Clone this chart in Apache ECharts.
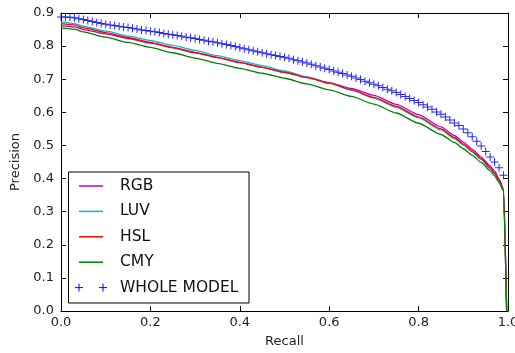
<!DOCTYPE html>
<html>
<head>
<meta charset="utf-8">
<script src="https://cdn.jsdelivr.net/npm/echarts@6/dist/echarts.min.js"></script>
<style>
  html, body { margin: 0; padding: 0; background: #fff; }
  #chart { width: 515px; height: 353px; }
</style>
</head>
<body>
<div id="chart"></div>
<script>
// Precision-recall curves for four colour-space models and the combined model.
const seriesNames = ['RGB', 'LUV', 'HSL', 'CMY', 'WHOLE MODEL'];
const seriesColors = ['#bf00bf', '#00bfbf', '#ff0000', '#008000', '#0000ff'];

// Recall positions shared by the four single-space curves
const recallLine = [0, 0.03, 0.05, 0.1, 0.15, 0.2, 0.25, 0.3, 0.35, 0.4, 0.45, 0.5, 0.55, 0.6,
  0.65, 0.7, 0.75, 0.8, 0.85, 0.88, 0.9, 0.92, 0.94, 0.96, 0.97, 0.98, 0.99, 0.997];

const precisionRGB = [0.862, 0.858, 0.850, 0.837, 0.823, 0.809, 0.795, 0.780, 0.765, 0.750, 0.736,
  0.721, 0.706, 0.690, 0.672, 0.651, 0.624, 0.593, 0.556, 0.530, 0.510, 0.488, 0.465, 0.438,
  0.422, 0.400, 0.368, 0.0];
const precisionLUV = [0.874, 0.868, 0.860, 0.845, 0.831, 0.817, 0.802, 0.787, 0.771, 0.756, 0.741,
  0.725, 0.707, 0.688, 0.667, 0.643, 0.615, 0.583, 0.547, 0.521, 0.501, 0.480, 0.457, 0.430,
  0.414, 0.393, 0.365, 0.0];
const precisionHSL = [0.868, 0.864, 0.855, 0.841, 0.826, 0.811, 0.796, 0.781, 0.766, 0.751, 0.736,
  0.721, 0.705, 0.688, 0.668, 0.645, 0.618, 0.586, 0.550, 0.524, 0.504, 0.483, 0.460, 0.433,
  0.416, 0.395, 0.365, 0.0];
const precisionCMY = [0.855, 0.851, 0.843, 0.827, 0.811, 0.796, 0.780, 0.764, 0.748, 0.733, 0.718,
  0.703, 0.686, 0.668, 0.648, 0.625, 0.598, 0.567, 0.533, 0.509, 0.490, 0.470, 0.449, 0.424,
  0.408, 0.388, 0.362, 0.0];

// Combined model, one marker per recall step
const recallWhole = [0.00, 0.01, 0.02, 0.03, 0.04, 0.05, 0.06, 0.07, 0.08, 0.09,
  0.10, 0.11, 0.12, 0.13, 0.14, 0.15, 0.16, 0.17, 0.18, 0.19,
  0.20, 0.21, 0.22, 0.23, 0.24, 0.25, 0.26, 0.27, 0.28, 0.29,
  0.30, 0.31, 0.32, 0.33, 0.34, 0.35, 0.36, 0.37, 0.38, 0.39,
  0.40, 0.41, 0.42, 0.43, 0.44, 0.45, 0.46, 0.47, 0.48, 0.49,
  0.50, 0.51, 0.52, 0.53, 0.54, 0.55, 0.56, 0.57, 0.58, 0.59,
  0.60, 0.61, 0.62, 0.63, 0.64, 0.65, 0.66, 0.67, 0.68, 0.69,
  0.70, 0.71, 0.72, 0.73, 0.74, 0.75, 0.76, 0.77, 0.78, 0.79,
  0.80, 0.81, 0.82, 0.83, 0.84, 0.85, 0.86, 0.87, 0.88, 0.89,
  0.90, 0.91, 0.92, 0.93, 0.94, 0.95, 0.96, 0.97, 0.98, 0.99];
const precisionWhole = [0.888, 0.888, 0.887, 0.886, 0.883, 0.880, 0.877, 0.874, 0.871, 0.868,
  0.866, 0.864, 0.862, 0.860, 0.858, 0.856, 0.854, 0.852, 0.849, 0.847,
  0.845, 0.843, 0.841, 0.838, 0.836, 0.834, 0.832, 0.830, 0.827, 0.825,
  0.823, 0.820, 0.818, 0.815, 0.813, 0.810, 0.807, 0.805, 0.802, 0.799,
  0.795, 0.792, 0.789, 0.786, 0.783, 0.780, 0.777, 0.774, 0.772, 0.769,
  0.766, 0.763, 0.759, 0.756, 0.752, 0.749, 0.745, 0.741, 0.737, 0.733,
  0.729, 0.725, 0.721, 0.717, 0.713, 0.709, 0.704, 0.699, 0.694, 0.689,
  0.685, 0.680, 0.675, 0.670, 0.665, 0.660, 0.654, 0.648, 0.642, 0.636,
  0.630, 0.623, 0.616, 0.609, 0.601, 0.594, 0.586, 0.577, 0.568, 0.560,
  0.550, 0.538, 0.526, 0.513, 0.498, 0.482, 0.465, 0.450, 0.433, 0.410];

const xTickLabels = ['0.0', '0.2', '0.4', '0.6', '0.8', '1.0'];
const yTickLabels = ['0.0', '0.1', '0.2', '0.3', '0.4', '0.5', '0.6', '0.7', '0.8', '0.9'];

const FONT = 'DejaVu Sans';
const plusPath = 'path://M3.5,0h1v8h-1zM0,3.5h8v1h-8z';

const pairs = (xs, ys) => xs.map((x, i) => [x, ys[i]]);
const lineSets = [precisionRGB, precisionLUV, precisionHSL, precisionCMY];

const series = lineSets.map((ys, i) => ({
  name: seriesNames[i],
  type: 'line',
  data: pairs(recallLine, ys),
  showSymbol: false,
  symbol: 'none',
  smooth: 0.2,
  smoothMonotone: 'x',
  lineStyle: { color: seriesColors[i], width: 1.3 },
  itemStyle: { color: seriesColors[i] },
  z: 2 + i,
  animation: false
}));
series.push({
  name: seriesNames[4],
  type: 'scatter',
  data: pairs(recallWhole, precisionWhole),
  symbol: plusPath,
  symbolSize: 8,
  itemStyle: { color: seriesColors[4], opacity: 0.85 },
  z: 10,
  animation: false
});

// Legend drawn as a boxed panel in the lower-left of the plot
const legendLeft = 68.5, legendTop = 172, legendW = 180.5, legendH = 131;
const rowStart = 186, rowStep = 25.4;
const legendChildren = [{
  type: 'rect',
  shape: { x: legendLeft, y: legendTop, width: legendW, height: legendH },
  style: { fill: '#fff', stroke: '#000', lineWidth: 1 }
}];
seriesNames.forEach((name, i) => {
  const cy = rowStart + i * rowStep;
  if (i < 4) {
    legendChildren.push({
      type: 'line',
      shape: { x1: 79, y1: cy, x2: 103, y2: cy },
      style: { stroke: seriesColors[i], lineWidth: 1.5 }
    });
  } else {
    [79, 103].forEach(cx => {
      legendChildren.push({
        type: 'line', shape: { x1: cx - 4, y1: cy, x2: cx + 4, y2: cy },
        style: { stroke: seriesColors[i], lineWidth: 1 }
      });
      legendChildren.push({
        type: 'line', shape: { x1: cx, y1: cy - 4, x2: cx, y2: cy + 4 },
        style: { stroke: seriesColors[i], lineWidth: 1 }
      });
    });
  }
  legendChildren.push({
    type: 'text',
    style: {
      x: 120, y: cy, text: name, fill: '#111',
      font: '15.5px "' + FONT + '"', verticalAlign: 'middle', align: 'left'
    }
  });
});

const axisLine = { show: true, onZero: false, lineStyle: { color: '#000', width: 1 } };
const tick = { show: true, inside: true, length: 5, lineStyle: { color: '#000', width: 1 } };

const chart = echarts.init(document.getElementById('chart'), null, { renderer: 'canvas' });
chart.setOption({
  animation: false,
  backgroundColor: '#fff',
  grid: { left: 61, right: 7, top: 13, bottom: 42, containLabel: false, outerBoundsMode: 'none' },
  xAxis: [{
    type: 'value', min: 0, max: 1, interval: 0.2, position: 'bottom',
    name: 'Recall', nameLocation: 'middle', nameGap: 24,
    nameTextStyle: { fontFamily: FONT, fontSize: 13, color: '#222' },
    axisLine: axisLine, axisTick: tick, splitLine: { show: false },
    axisLabel: {
      fontFamily: FONT, fontSize: 13, color: '#222', margin: 5,
      formatter: (v) => xTickLabels[Math.round(v / 0.2)]
    }
  }, {
    type: 'value', min: 0, max: 1, interval: 0.2, position: 'top',
    axisLine: axisLine, axisTick: tick, splitLine: { show: false },
    axisLabel: { show: false }
  }],
  yAxis: [{
    type: 'value', min: 0, max: 0.9, interval: 0.1, position: 'left',
    name: 'Precision', nameLocation: 'middle', nameGap: 31,
    nameTextStyle: { fontFamily: FONT, fontSize: 13, color: '#222' },
    axisLine: axisLine, axisTick: tick, splitLine: { show: false },
    axisLabel: {
      fontFamily: FONT, fontSize: 13, color: '#222', margin: 7,
      formatter: (v) => yTickLabels[Math.round(v / 0.1)]
    }
  }, {
    type: 'value', min: 0, max: 0.9, interval: 0.1, position: 'right',
    axisLine: axisLine, axisTick: tick, splitLine: { show: false },
    axisLabel: { show: false }
  }],
  series: series,
  graphic: [{ type: 'group', z: 100, children: legendChildren }]
});
</script>
</body>
</html>
